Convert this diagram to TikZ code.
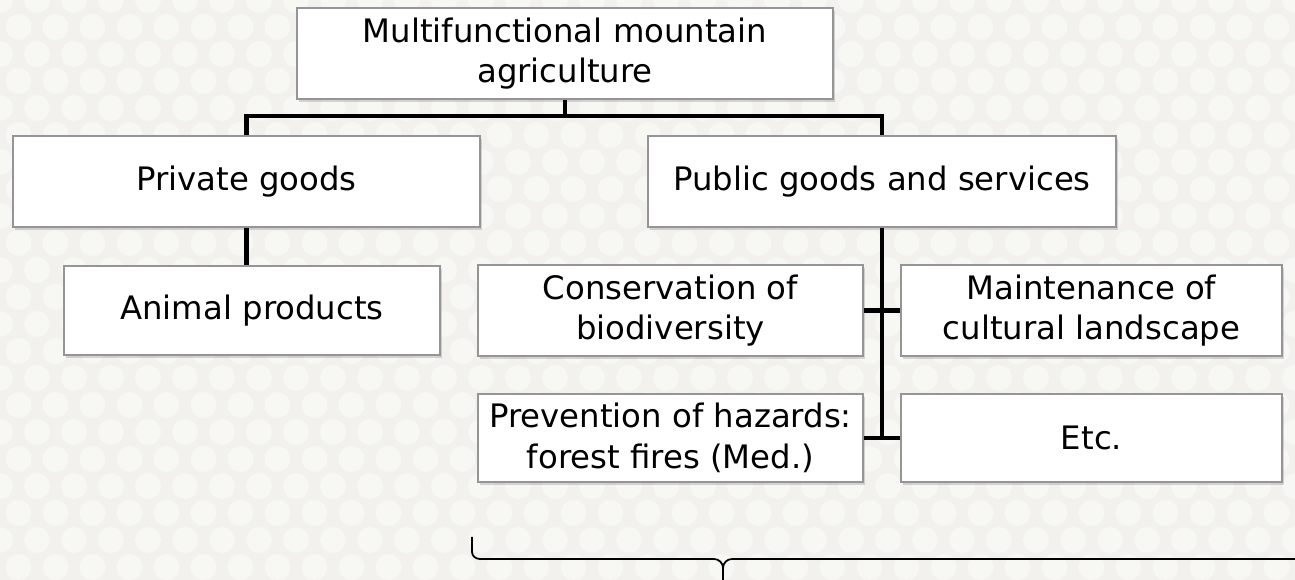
\documentclass[tikz,border=0pt]{standalone}
\usepackage{fontspec}
\setmainfont{DejaVu Sans}
\usepackage{xcolor}
\usepackage{tikz}
\usetikzlibrary{positioning,arrows.meta,calc,shadows}
\definecolor{paper}{HTML}{F2F1ED}
\definecolor{dots}{HTML}{F7F7F4}
\definecolor{frame}{HTML}{959595}
\definecolor{bar}{HTML}{000000}
\newlength\px
\setlength\px{0.02cm}

\begin{document}
\begin{tikzpicture}[x=0.02cm, y=-0.02cm,
  font=\fontsize{18.4}{23.2}\selectfont,
  box/.style={draw=frame, fill=white, line width=0.7pt, align=center, inner sep=2pt,
    minimum height=91\px, drop shadow={opacity=0.3, shadow xshift=1.2pt, shadow yshift=-1.5pt}},
  link/.style={draw=bar, line width=2.3pt},
  bracepath/.style={draw=black, line width=1pt}]
\fill[paper] (0,0) rectangle (1295,580);
\useasboundingbox (0,0) rectangle (1295,580);
\clip (0,0) rectangle (1295,580);
\foreach \row in {0,...,21}{
  \foreach \col in {0,...,35}{
    \fill[dots] ({37*\col+18.5*mod(\row,2)},{27*\row}) circle (13);
  }
}

\node[box, minimum width=536\px] (top) at (565,53.5) {Multifunctional mountain\\ agriculture};
\node[box, minimum width=467\px] (priv) at (246.5,181.5) {Private goods};
\node[box, minimum width=468\px] (pub) at (882,181.5) {Public goods and services};
\node[box, minimum width=376\px, minimum height=89\px] (animal) at (252,310.5) {Animal products};
\node[box, minimum width=385\px] (cons) at (670.5,310.5) {Conservation of\\ biodiversity};
\node[box, minimum width=381\px] (maint) at (1091.5,310.5) {Maintenance of\\ cultural landscape};
\node[box, minimum width=385\px, minimum height=88\px] (prev) at (670.5,438) {Prevention of hazards:\\ forest fires (Med.)};
\node[box, minimum width=381\px, minimum height=88\px] (etc) at (1091.5,438) {Etc.};

\coordinate (bus) at (565,116);
\draw[link] (top.south) -- (bus);
\draw[link] (priv.north) |- (bus) -| (pub.north);
\draw[link] (priv.south) -- (priv.south |- animal.north);
\draw[link] (pub.south) -- (pub.south |- prev.east);
\draw[link] (cons.east) -- (maint.west);
\draw[link] (prev.east) -- (etc.west);

\draw[bracepath] (472,537) -- (472,552) to[out=-90, in=180] (480,559) -- (714,559)
  to[out=0, in=90] (723,568) -- (723,590);
\draw[bracepath] (723,568) to[out=90, in=180] (732,559) -- (1300,559);
\end{tikzpicture}
\end{document}
